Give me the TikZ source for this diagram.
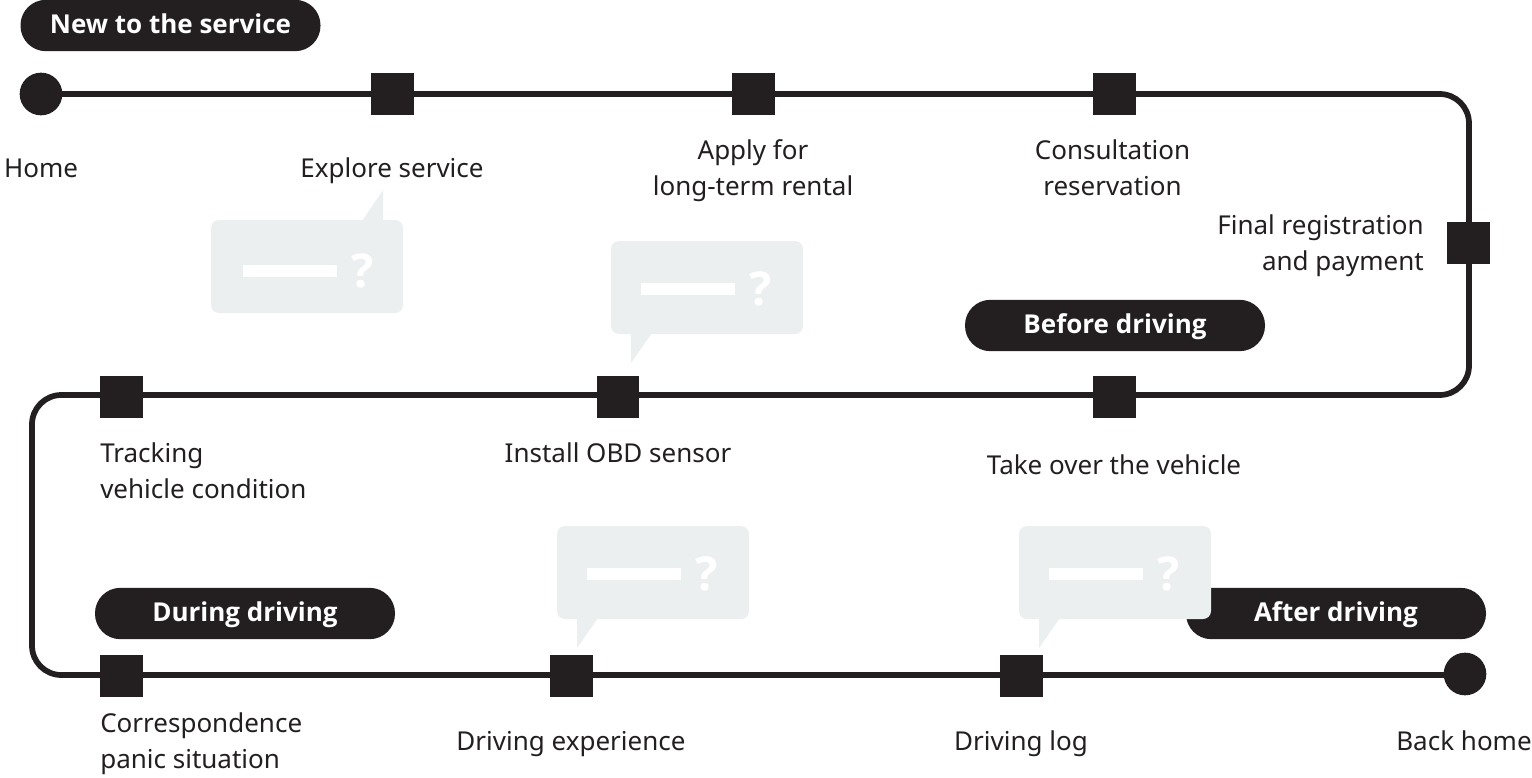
\documentclass[tikz,border=0pt]{standalone}
\usepackage{fontspec}
\setmainfont{Noto Sans}
\newfontfamily\pillfont{Open Sans}
\usetikzlibrary{calc}
\definecolor{darkink}{HTML}{231F20}
\definecolor{bubblegray}{HTML}{ECEFF0}
\tikzset{
	x=1pt,y=-1pt,
	stopbox/.style={fill=darkink,minimum width=32pt,minimum height=32pt,inner sep=0pt},
	enddot/.style={circle,fill=darkink,minimum size=32pt,inner sep=0pt},
	stagepill/.style={rounded corners=19pt,fill=darkink,text=white,minimum width=225pt,minimum height=38.5pt,inner sep=0pt,text height=15pt,text depth=3.5pt,font=\fontsize{19.5}{22}\pillfont\bfseries},
	steptext/.style={font=\fontsize{19.5}{27}\selectfont,inner sep=0pt,text=darkink},
}
\newcommand{\askbubble}[5]{% x, y of top left corner, bar offset x, y, tail
	\fill[bubblegray,rounded corners=6pt] (#1,#2) rectangle ++(192,93);
	\fill[white] ($(#1,#2)+(#3,#4)$) rectangle ++(94,12);
	\node[text=white,font=\fontsize{35}{35}\pillfont\bfseries,inner sep=0pt] at ($(#1,#2)+(#3,#4)+(120,6)$) {?};
	#5
}
\begin{document}
\begin{tikzpicture}[scale=0.75]
	\useasboundingbox (0,0) rectangle (1532,778);
	%%%%% line %%%%%
	\node[enddot] (home) at (41,94) {};
	\node[enddot] (back) at (1465,674) {};
	\draw[line width=4.3pt,darkink,rounded corners=22pt] (home.center) -- (1469,94) -- (1469,395) -- (32,395) -- (32,675) -- (back.center |- 0,675);

	%%%%% bubbles %%%%%
	\askbubble{211}{220}{32}{45}{\fill[bubblegray] (362,221) -- (383,190) -- (383,221) -- cycle;}
	\askbubble{611}{241}{30}{42}{\fill[bubblegray] (631,333) -- (631,363) -- (652,333) -- cycle;}
	\askbubble{557}{526}{30}{42}{\fill[bubblegray] (577,618) -- (577,648) -- (598,618) -- cycle;}

	\node[stagepill] (afterpill) at (1336,613.5) {After driving};
	\askbubble{1019}{526}{30}{42}{\fill[bubblegray] (1039,618) -- (1039,648) -- (1060,618) -- cycle;}

	%%%%% stages %%%%%
	\node[stagepill] (newpill) at (170.5,25.5) {New to the service};
	\node[stagepill] (beforepill) at (1115,325.5) {Before driving};
	\node[stagepill] (duringpill) at (245,613.5) {During driving};

	%%%%% stops %%%%%
	\node[stopbox] (explore) at (392.5,94) {};
	\node[stopbox] (apply) at (753.5,94) {};
	\node[stopbox] (consult) at (1114.5,94) {};
	\node[stopbox] (final) at (1468.5,243) {};
	\node[stopbox] (takeover) at (1114.5,397) {};
	\node[stopbox] (install) at (618,397) {};
	\node[stopbox] (tracking) at (121.5,397) {};
	\node[stopbox] (panic) at (121.5,676) {};
	\node[stopbox] (experience) at (571.5,676) {};
	\node[stopbox] (drivelog) at (1021.5,676) {};

	%%%%% labels %%%%%
	\node[steptext] (homelbl) at (41,168) {Home};
	\node[steptext] (explorelbl) at (392,171) {Explore service};
	\node[steptext,align=center] (applylbl) at (753,171) {Apply for\\long-term rental};
	\node[steptext,align=center] (consultlbl) at (1112.5,168) {Consultation\\reservation};
	\node[steptext,align=right,anchor=east] (finallbl) at (1424,246) {Final registration\\and payment};
	\node[steptext] (takeoverlbl) at (1114,465) {Take over the vehicle};
	\node[steptext] (installlbl) at (618,453) {Install OBD sensor};
	\node[steptext,align=left,anchor=west] (trackinglbl) at (100,471) {Tracking\\vehicle condition};
	\node[steptext,align=left,anchor=west] (paniclbl) at (100,744) {Correspondence\\panic situation};
	\node[steptext] (experiencelbl) at (571,744) {Driving experience};
	\node[steptext] (loglbl) at (1021,744) {Driving log};
	\node[steptext] (backlbl) at (1464,741) {Back home};
\end{tikzpicture}
\end{document}
